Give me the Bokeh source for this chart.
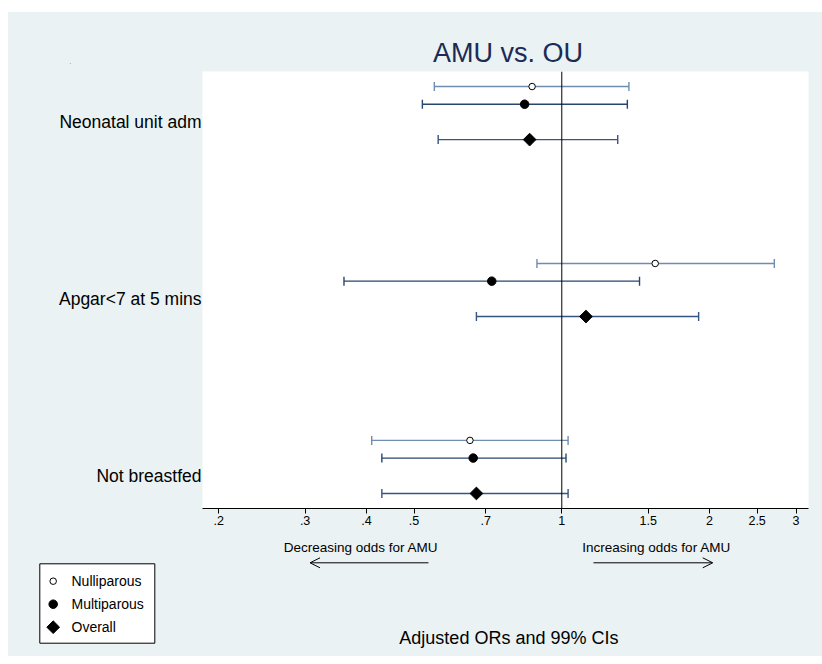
import math

from bokeh.plotting import figure
from bokeh.layouts import column
from bokeh.core.properties import value
from bokeh.models import (Range1d, LinearScale, FixedTicker, CustomJSTickFormatter, Whisker,
                          TeeHead, Span, Label, Arrow, OpenHead, ColumnDataSource)
from bokeh.embed import file_html
from bokeh.resources import INLINE

# Adjusted odds ratios (AMU vs. OU) with 99% confidence intervals
outcomes = ["Neonatal unit adm", "Apgar<7 at 5 mins", "Not breastfed"]

nulli_or = [0.87, 1.55, 0.65]
nulli_lo = [0.55, 0.89, 0.41]
nulli_hi = [1.37, 2.71, 1.03]

multi_or = [0.84, 0.72, 0.66]
multi_lo = [0.52, 0.36, 0.43]
multi_hi = [1.36, 1.44, 1.02]

overall_or = [0.86, 1.12, 0.67]
overall_lo = [0.56, 0.67, 0.43]
overall_hi = [1.30, 1.90, 1.03]

x_ticks = [0.2, 0.3, 0.4, 0.5, 0.7, 1, 1.5, 2, 2.5, 3]

FONT = "Liberation Sans"
BG = "#EAF2F3"

W = 814
TOP_H, MAIN_H, BOT_H = 59, 467, 118
LEFT_B, RIGHT_B, AXIS_B = 194, 14, 30
X_MIN, X_MAX = 0.1854, 3.181

# vertical layout: each outcome gets a block, overall at the base,
# multiparous one step above, nulliparous one and a half steps above
n = len(outcomes)
base = [1 + 5 * (n - 1 - i) for i in range(n)]


def band(height, **kw):
    f = figure(width=W, height=height, x_axis_location=None, y_axis_location=None,
               title=None, output_backend="svg", toolbar_location=None,
               min_border=0, background_fill_color=BG, border_fill_color=BG,
               outline_line_color=None, **kw)
    f.frame_align = False
    f.grid.visible = False
    return f


# ---------------- title band ----------------
top = band(TOP_H, x_range=Range1d(0, W), y_range=Range1d(0, TOP_H))
top.add_layout(Label(x=499.5, y=18.5, x_units="screen", y_units="screen",
                     text="AMU vs. OU", text_align="center", text_baseline="middle",
                     text_font=FONT, text_font_size="27px", text_color="#1c2b55"))
top.add_layout(Label(x=62, y=10, x_units="screen", y_units="screen",
                     text=".", text_align="center", text_baseline="middle",
                     text_font=FONT, text_font_size="5px", text_color="black"))

# ---------------- forest plot ----------------
p = figure(width=W, height=MAIN_H, x_axis_type="log",
           x_range=Range1d(X_MIN, X_MAX), y_range=Range1d(0.575, 12.925),
           output_backend="svg", toolbar_location=None, title=None,
           min_border_left=LEFT_B, min_border_right=RIGHT_B, min_border_top=0,
           min_border_bottom=AXIS_B,
           background_fill_color="white", border_fill_color=BG,
           outline_line_color=None)
p.frame_align = False
p.grid.visible = False

xa = p.xaxis[0]
xa.ticker = FixedTicker(ticks=x_ticks, minor_ticks=[])
xa.formatter = CustomJSTickFormatter(
    code="const s = String(tick); return tick < 1 ? s.replace(/^0/, '') : s;")
xa.axis_line_color = "black"
xa.major_tick_line_color = "black"
xa.major_tick_out = 5
xa.major_tick_in = 0
xa.minor_tick_line_color = None
xa.major_label_text_font = FONT
xa.major_label_text_font_size = "12.5px"
xa.major_label_text_color = "black"
xa.major_label_standoff = 2

ya = p.yaxis[0]
label_pos = [b + 0.5 for b in base]
ya.ticker = FixedTicker(ticks=label_pos, minor_ticks=[])
ya.major_label_overrides = {pos: name for pos, name in zip(label_pos, outcomes)}
ya.axis_line_color = None
ya.major_tick_line_color = None
ya.major_tick_out = 0
ya.major_tick_in = 0
ya.minor_tick_line_color = None
ya.major_label_text_font = FONT
ya.major_label_text_font_size = "17.5px"
ya.major_label_text_color = "black"
ya.major_label_standoff = 1

# reference line at OR = 1
p.add_layout(Span(location=1, dimension="height", line_color="black",
                  line_width=1, level="overlay"))

series = [
    ("Nulliparous", nulli_or, nulli_lo, nulli_hi, 1.5, "#6f8db0",
     dict(marker="circle", size=6.5, fill_color="white", line_color="black", line_width=1)),
    ("Multiparous", multi_or, multi_lo, multi_hi, 1.0, "#27476f",
     dict(marker="circle", size=8.5, fill_color="black", line_color="black")),
    ("Overall", overall_or, overall_lo, overall_hi, 0.0, "#34567f",
     dict(marker="square", size=9, angle=math.pi / 4, fill_color="black", line_color="black")),
]

for name, ors, los, his, off, ci_color, mk in series:
    src = ColumnDataSource(dict(
        x=ors, lo=los, hi=his, y=[b + off for b in base]))
    p.add_layout(Whisker(source=src, base="y", lower="lo", upper="hi",
                         dimension="width", line_color=ci_color, line_width=1.4,
                         lower_head=TeeHead(size=9, line_color=ci_color, line_width=1.4),
                         upper_head=TeeHead(size=9, line_color=ci_color, line_width=1.4)))
    p.scatter("x", "y", source=src, **mk)

# ---------------- lower band: direction notes, legend, caption ----------------
# same log mapping as the forest plot, widened over the side borders
ln_per_px = (math.log(X_MAX) - math.log(X_MIN)) / (W - LEFT_B - RIGHT_B)
bot = band(BOT_H, x_axis_type="log",
           x_range=Range1d(math.exp(math.log(X_MIN) - LEFT_B * ln_per_px),
                           math.exp(math.log(X_MAX) + RIGHT_B * ln_per_px)),
           y_range=Range1d(0, BOT_H),
           extra_x_ranges={"px": Range1d(0, W)},
           extra_x_scales={"px": LinearScale()})

bot.add_layout(Label(x=0.39, y=109.2, text="Decreasing odds for AMU",
                     text_align="center", text_baseline="middle",
                     text_font=FONT, text_font_size="13.5px", text_color="black"))
bot.add_layout(Label(x=1.56, y=109.2, text="Increasing odds for AMU",
                     text_align="center", text_baseline="middle",
                     text_font=FONT, text_font_size="13.5px", text_color="black"))
bot.add_layout(Arrow(x_start=0.535, y_start=93.7, x_end=0.307, y_end=93.7,
                     line_color="black", line_width=1,
                     end=OpenHead(size=10, line_color="black", line_width=1)))
bot.add_layout(Arrow(x_start=1.16, y_start=93.7, x_end=2.03, y_end=93.7,
                     line_color="black", line_width=1,
                     end=OpenHead(size=10, line_color="black", line_width=1)))

# legend box with one key per series (marker sizes as in the plot)
bot.quad(left=[31.3], right=[146.3], bottom=[13.3], top=[92.7], x_range_name="px",
         fill_color="white", line_color="black", line_width=1)
key_y = [75.3, 52.3, 29.3]
for (name, *_rest, mk), ky in zip(series, key_y):
    bot.scatter(x=[44.7], y=[ky], x_range_name="px", **mk)
    bot.text(x=[63], y=[ky], text=[name], x_range_name="px",
             text_font=value(FONT), text_font_size=value("14px"),
             text_baseline="middle", text_align="left", text_color="black")

bot.add_layout(Label(x=500.4, y=18.5, x_units="screen", y_units="screen",
                     text="Adjusted ORs and 99% CIs", text_align="center",
                     text_baseline="middle",
                     text_font=FONT, text_font_size="18px", text_color="black"))

layout = column(top, p, bot, spacing=0)
layout.margin = (12, 0, 0, 8)
layout.styles = {"background-color": BG}

open("out.html", "w").write(file_html(layout, INLINE))
